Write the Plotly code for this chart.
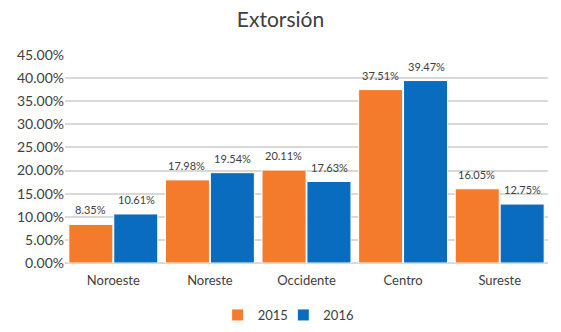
import plotly.graph_objects as go

regions = ["Noroeste", "Noreste", "Occidente", "Centro", "Sureste"]
v2015 = [8.35, 17.98, 20.11, 37.51, 16.05]
v2016 = [10.61, 19.54, 17.63, 39.47, 12.75]
yticks = [0, 5, 10, 15, 20, 25, 30, 35, 40, 45]

font = "Lato"
fig = go.Figure()
series = [("2015", v2015, "#F47A2C", -23, "legend"), ("2016", v2016, "#0A6CBF", 23, "legend2")]
for name, vals, col, dx, leg in series:
    fig.add_trace(go.Bar(
        x=regions, y=vals, name=name, legend=leg,
        marker=dict(color=col, line=dict(color="white", width=1)),
    ))
    for r, v in zip(regions, vals):
        fig.add_annotation(x=r, y=v, text=f"{v:.2f}%", showarrow=False,
                           xshift=dx, yshift=6, yanchor="bottom",
                           font=dict(size=11, color="#404040", family=font))

legfont = dict(size=13, color="#404040", family=font)
clear = "rgba(0,0,0,0)"
fig.update_layout(
    width=561, height=332,
    margin=dict(l=65, r=13, t=55, b=69, autoexpand=False),
    paper_bgcolor="white", plot_bgcolor="white",
    title=dict(text="Extorsión", x=0.5, xanchor="center", y=0.94, yanchor="middle",
               font=dict(size=21, color="#404040", family=font)),
    barmode="group", bargap=0.07, bargroupgap=0.02,
    font=dict(family=font, color="#404040"),
    legend=dict(orientation="h", x=0.316, xanchor="left", y=-0.25, yanchor="middle",
                font=legfont, itemwidth=30, bgcolor=clear),
    legend2=dict(orientation="h", x=0.452, xanchor="left", y=-0.25, yanchor="middle",
                 font=legfont, itemwidth=30, bgcolor=clear),
    showlegend=True,
)
fig.update_yaxes(range=[0, 45], tickvals=yticks, automargin=False,
                 ticktext=[f"{t:.2f}%" for t in yticks],
                 showgrid=True, gridcolor="#D9D9D9", gridwidth=2,
                 zeroline=True, zerolinecolor="#D9D9D9", zerolinewidth=2,
                 tickfont=dict(size=14, color="#404040"), ticks="", ticklen=0)
fig.update_xaxes(tickfont=dict(size=13, color="#404040"), showline=False, ticks="",
                 ticklabelstandoff=8, automargin=False)

fig.write_html("out.html")
